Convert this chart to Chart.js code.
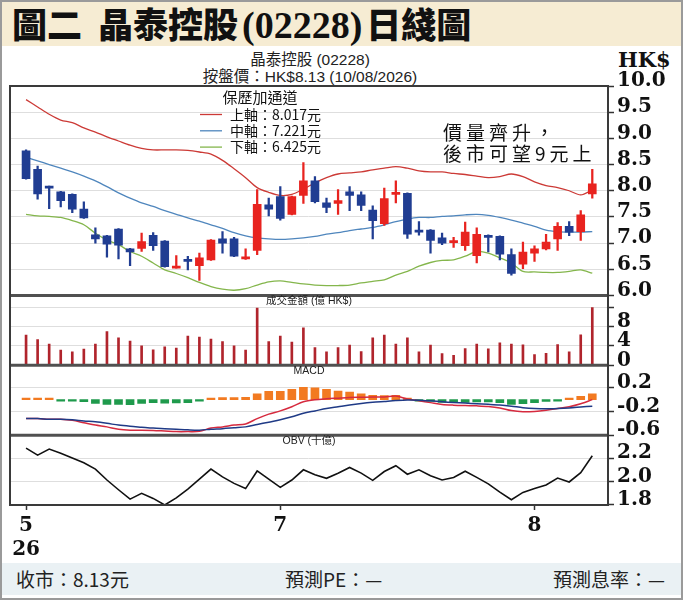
<!DOCTYPE html>
<html><head><meta charset="utf-8">
<script src="https://cdn.jsdelivr.net/npm/chart.js@4/dist/chart.umd.min.js"></script>
<style>
html,body{margin:0;padding:0;background:#fff;}
#wrap{position:relative;width:683px;height:600px;overflow:hidden;background:#fff;font-family:"Noto Sans CJK TC","Noto Sans",sans-serif;}
#titlebar{position:absolute;left:0;top:0;width:683px;height:46px;background:#f6ecd3;}
#title{position:absolute;left:12px;top:0px;font-size:35px;font-weight:900;line-height:46px;color:#111;white-space:nowrap;}
#title .num{font-family:"Liberation Serif",serif;font-weight:bold;font-size:38px;margin:0 4px;}
#sub1,#sub2{position:absolute;left:160px;width:300px;text-align:center;font-family:"Liberation Sans","Noto Sans CJK TC",sans-serif;font-size:15.5px;color:#222;line-height:18px;white-space:nowrap;}
#sub1{top:51px;}
#sub2{top:68px;}
#hk{position:absolute;left:618px;top:48px;font-family:"DejaVu Serif",serif;font-weight:bold;font-size:21px;color:#111;line-height:24px;}
#note{position:absolute;left:443px;top:121px;font-size:19px;line-height:21px;letter-spacing:4px;color:#111;white-space:nowrap;}
#c{position:absolute;left:0;top:0;}
#footer{position:absolute;left:0;top:563px;width:683px;height:32px;background:#eaf1f4;font-size:19px;line-height:32px;color:#222;}
#footer span{position:absolute;top:0;white-space:nowrap;}
#frame{position:absolute;left:0;top:0;width:679px;height:596px;border:2px solid #9a9a9a;pointer-events:none;}
</style>
</head>
<body>
<div id="wrap">
  <div id="titlebar"><div id="title">圖二&nbsp;&nbsp;晶泰控股<span class="num">(02228)</span>日綫圖</div></div>
  <div id="sub1">晶泰控股 (02228)</div>
  <div id="sub2">按盤價：HK$8.13 (10/08/2026)</div>
  <div id="hk">HK$</div>
  <canvas id="c" width="683" height="600"></canvas>
  <div id="note">價量齊升，<br>後市可望9元上</div>
  <div id="footer"><span style="left:16px">收市：8.13元</span><span style="left:285px">預測PE：—</span><span style="left:553px">預測息率：—</span></div>
  <div id="frame"></div>
</div>
<script>
// ---- data ----
const tickIndex = [0, 22, 44];
const tickLabels = [['5', '26'], '7', '8'];

const open  = [8.76,8.41,8.08,7.98,7.93,7.65,7.16,7.14,7.27,6.89,6.90,7.15,7.04,6.52,6.69,6.57,6.68,7.08,7.08,6.70,6.86,7.73,7.89,7.55,7.91,8.19,7.77,7.76,7.98,7.92,7.63,7.37,7.93,7.95,7.24,7.25,7.10,7.01,6.95,6.76,7.15,7.13,6.78,6.60,6.81,6.89,7.08,7.32,7.22,7.94];
const close = [8.23,7.94,8.05,7.81,7.65,7.48,7.08,6.98,6.96,6.83,7.03,6.95,6.55,6.56,6.65,6.72,7.06,7.00,6.75,6.74,7.74,7.65,7.47,7.89,8.19,7.79,7.68,7.81,7.91,7.72,7.43,7.85,7.96,7.17,7.21,7.05,7.00,7.05,7.21,7.17,7.11,6.79,6.42,6.83,6.89,7.02,7.32,7.21,7.54,8.13];
const high  = [8.78,8.47,8.09,7.99,7.94,7.79,7.29,7.15,7.28,6.90,7.19,7.20,7.05,6.76,6.75,6.81,7.07,7.22,7.11,6.89,8.02,7.86,8.08,7.90,8.54,8.27,7.86,8.02,8.08,7.98,7.71,8.05,8.19,7.96,7.41,7.26,7.19,7.11,7.40,7.29,7.16,7.14,6.89,7.02,6.95,7.17,7.39,7.41,7.62,8.41];
const low   = [8.22,7.84,7.66,7.69,7.58,7.47,7.00,6.73,6.70,6.57,6.84,6.86,6.54,6.52,6.49,6.29,6.67,6.81,6.74,6.69,6.78,7.52,7.44,7.54,7.76,7.77,7.58,7.55,7.62,7.62,7.08,7.34,7.77,7.09,7.15,6.81,6.97,6.92,6.86,6.62,6.83,6.68,6.39,6.51,6.65,6.87,6.86,7.14,7.05,7.86];

const bollUpper = [9.74,9.60,9.46,9.35,9.30,9.20,9.12,9.03,8.95,8.87,8.81,8.78,8.78,8.78,8.77,8.74,8.70,8.58,8.42,8.25,8.06,7.97,7.91,7.93,8.03,8.15,8.25,8.32,8.34,8.36,8.40,8.43,8.46,8.43,8.38,8.36,8.36,8.33,8.31,8.28,8.25,8.27,8.32,8.27,8.17,8.10,8.06,8.00,7.92,8.017];
const bollMid   = [8.64,8.57,8.50,8.43,8.36,8.28,8.19,8.08,7.96,7.86,7.77,7.70,7.62,7.55,7.48,7.42,7.35,7.28,7.20,7.14,7.10,7.08,7.07,7.08,7.10,7.13,7.17,7.20,7.24,7.27,7.30,7.35,7.41,7.46,7.49,7.49,7.51,7.52,7.54,7.55,7.53,7.49,7.44,7.38,7.32,7.25,7.22,7.21,7.21,7.221];
const bollLower = [7.55,7.52,7.51,7.49,7.43,7.35,7.19,7.06,6.97,6.84,6.75,6.62,6.49,6.42,6.34,6.25,6.17,6.12,6.10,6.13,6.20,6.26,6.28,6.25,6.22,6.20,6.19,6.19,6.20,6.24,6.27,6.30,6.39,6.46,6.56,6.63,6.67,6.68,6.75,6.84,6.81,6.72,6.62,6.46,6.45,6.44,6.44,6.46,6.49,6.425];

const turnover = [6.25,5.33,4.37,3.12,2.77,3.33,4.37,6.94,5.69,5.00,4.02,3.19,3.81,3.54,6.04,5.83,5.42,4.92,4.02,3.12,11.8,4.92,6.04,4.79,7.71,3.67,2.77,3.67,4.17,2.83,5.69,6.25,4.37,5.69,2.77,4.17,2.42,2.08,3.46,4.37,3.40,4.65,4.37,4.23,2.21,2.50,4.30,2.77,6.31,11.9];

const macdDif  = [-0.32,-0.32,-0.33,-0.33,-0.35,-0.39,-0.43,-0.46,-0.50,-0.515,-0.515,-0.52,-0.53,-0.54,-0.54,-0.535,-0.48,-0.46,-0.43,-0.41,-0.32,-0.245,-0.19,-0.12,-0.035,0.0,0.015,0.025,0.035,0.04,0.045,0.045,0.06,0.01,-0.02,-0.05,-0.08,-0.093,-0.10,-0.105,-0.115,-0.14,-0.185,-0.205,-0.20,-0.18,-0.15,-0.12,-0.07,0.0];
const macdDea  = [-0.32,-0.32,-0.33,-0.33,-0.34,-0.36,-0.375,-0.40,-0.43,-0.45,-0.465,-0.48,-0.49,-0.50,-0.51,-0.515,-0.50,-0.49,-0.475,-0.46,-0.42,-0.38,-0.34,-0.29,-0.23,-0.19,-0.15,-0.12,-0.09,-0.065,-0.045,-0.03,-0.015,-0.005,-0.008,-0.02,-0.035,-0.048,-0.058,-0.068,-0.078,-0.09,-0.11,-0.135,-0.15,-0.155,-0.15,-0.14,-0.125,-0.11];
const macdHist = [0.003,0.002,0.002,-0.008,-0.02,-0.035,-0.065,-0.08,-0.08,-0.085,-0.065,-0.05,-0.06,-0.055,-0.05,-0.025,0.01,0.035,0.035,0.04,0.10,0.14,0.14,0.175,0.21,0.20,0.175,0.146,0.13,0.10,0.073,0.068,0.073,0.005,-0.005,-0.028,-0.045,-0.045,-0.045,-0.04,-0.04,-0.05,-0.08,-0.068,-0.05,-0.028,-0.005,0.005,0.056,0.10];

const obv = [2.285,2.225,2.277,2.24,2.20,2.16,2.106,2.013,1.93,1.85,1.90,1.856,1.80,1.86,1.936,2.02,2.106,2.04,1.984,1.94,2.09,2.02,1.95,2.013,2.10,2.058,2.027,2.07,2.12,2.072,2.01,2.085,2.135,2.062,2.10,2.05,2.013,2.035,2.088,2.035,1.98,1.91,1.845,1.907,1.94,1.97,2.03,1.996,2.075,2.22];

const priceTicks = [6.0,6.5,7.0,7.5,8.0,8.5,9.0,9.5,10.0];
const priceTickLabels = ['6.0','6.5','7.0','7.5','8.0','8.5','9.0','9.5','10.0'];
const volTicks = [0,4,8,12];
const volTickLabels = ['0','4','8',''];
const macdTicks = [-0.6,-0.2,0.2];
const macdTickLabels = ['-0.6','-0.2','0.2'];
const obvTicks = [1.8,2.0,2.2];
const obvTickLabels = ['1.8','2.0','2.2'];

// ---- build ----
const idx = open.map((_, i) => i);
const RED = '#e8231f', BLUE = '#203d92';
const candleColor = idx.map(i => close[i] >= open[i] ? RED : BLUE);
const pts = arr => idx.map(i => ({x: i, y: arr[i]}));

const axisFont = {family: 'DejaVu Serif', weight: 'bold', size: 20};
function yAxis(min, max, ticks, labels, weight) {
  return {
    type: 'linear', position: 'right', stack: 'panels', stackWeight: weight, min, max, offset: false,
    afterBuildTicks: s => { s.ticks = ticks.map(v => ({value: v})); },
    afterFit: s => { s.width = 67; },
    grid: {color: '#dedede', lineWidth: 1, drawTicks: true, tickLength: 6, tickColor: '#333', tickWidth: 1.5},
    border: {display: true, color: '#444', width: 2},
    ticks: {padding: 3, labelOffset: -5, color: '#111', font: axisFont, autoSkip: false,
            callback: (v, i) => labels[i]}
  };
}

const decor = {
  id: 'decor',
  afterDraw(chart) {
    const {ctx, chartArea: a, scales} = chart;
    const cx = (a.left + a.right) / 2;
    ctx.save();
    ctx.strokeStyle = '#505050';
    ctx.lineWidth = 3;
    [scales.yPrice.bottom, scales.yVol.bottom, scales.yMacd.bottom].forEach(y => {
      ctx.beginPath(); ctx.moveTo(a.left, y); ctx.lineTo(a.right, y); ctx.stroke();
    });
    ctx.lineWidth = 2;
    ctx.strokeStyle = '#3a3a3a';
    ctx.strokeRect(a.left, a.top, a.right - a.left, a.bottom - a.top);
    ctx.fillStyle = '#222';
    ctx.textAlign = 'center';
    ctx.textBaseline = 'middle';
    ctx.font = '10.5px "Liberation Sans", "Noto Sans CJK TC", sans-serif';
    ctx.fillText('成交金額 (億 HK$)', cx, scales.yVol.top + 6);
    ctx.fillText('MACD', cx, scales.yMacd.top + 6);
    ctx.fillText('OBV (十億)', cx, scales.yObv.top + 6);
    const top = scales.yPrice.top;
    ctx.font = '15px "Noto Sans CJK TC", sans-serif';
    ctx.fillStyle = '#111';
    ctx.fillText('保歷加通道', 260, top + 11);
    const rows = [
      ['上軸', bollUpper, '#cc3a36'],
      ['中軸', bollMid, '#4f86bd'],
      ['下軸', bollLower, '#84b64c']
    ];
    ctx.font = '14px "Noto Sans CJK TC", sans-serif';
    ctx.textAlign = 'left';
    rows.forEach((r, k) => {
      const y = top + 28.5 + k * 16.3;
      ctx.strokeStyle = r[2]; ctx.lineWidth = 1.3;
      ctx.beginPath(); ctx.moveTo(200, y); ctx.lineTo(222, y); ctx.stroke();
      ctx.fillStyle = '#111';
      ctx.fillText(r[0] + '：' + r[1][r[1].length - 1].toFixed(3) + '元', 230, y);
    });
    ctx.restore();
  }
};

new Chart(document.getElementById('c'), {
  data: {
    datasets: [
      {type: 'line', label: 'upper', data: pts(bollUpper), yAxisID: 'yPrice', borderColor: '#cc3a36', borderWidth: 1.3, pointRadius: 0, tension: 0.3, order: 3},
      {type: 'line', label: 'mid', data: pts(bollMid), yAxisID: 'yPrice', borderColor: '#4f86bd', borderWidth: 1.3, pointRadius: 0, tension: 0.3, order: 3},
      {type: 'line', label: 'lower', data: pts(bollLower), yAxisID: 'yPrice', borderColor: '#84b64c', borderWidth: 1.3, pointRadius: 0, tension: 0.3, order: 3},
      {type: 'bar', label: 'wick', data: idx.map(i => ({x: i, y: [low[i], high[i]]})), yAxisID: 'yPrice',
       backgroundColor: candleColor, barThickness: 1.6, grouped: false, order: 2},
      {type: 'bar', label: 'body', data: idx.map(i => ({x: i, y: [open[i], close[i]]})), yAxisID: 'yPrice',
       backgroundColor: candleColor, barThickness: 8, minBarLength: 2, grouped: false, order: 1},
      {type: 'bar', label: 'turnover', data: pts(turnover), yAxisID: 'yVol',
       backgroundColor: '#b0242c', barThickness: 2, grouped: false, order: 1},
      {type: 'bar', label: 'hist', data: pts(macdHist), yAxisID: 'yMacd',
       backgroundColor: macdHist.map(v => v >= 0 ? '#f27a21' : '#1f9a4c'), barThickness: 8, minBarLength: 1.5, grouped: false, order: 2},
      {type: 'line', label: 'DIF', data: pts(macdDif), yAxisID: 'yMacd', borderColor: '#d62a3e', borderWidth: 1.5, pointRadius: 0, tension: 0.3, order: 1},
      {type: 'line', label: 'DEA', data: pts(macdDea), yAxisID: 'yMacd', borderColor: '#1f3a86', borderWidth: 1.5, pointRadius: 0, tension: 0.3, order: 0},
      {type: 'line', label: 'OBV', data: pts(obv), yAxisID: 'yObv', borderColor: '#111', borderWidth: 1.6, pointRadius: 0, tension: 0, order: 0}
    ]
  },
  options: {
    responsive: false,
    devicePixelRatio: 1,
    animation: false,
    events: [],
    layout: {padding: {left: 10, top: 86, right: 8, bottom: 40}},
    plugins: {legend: {display: false}, tooltip: {enabled: false}},
    scales: {
      x: {
        type: 'linear', position: 'bottom', min: -1.39, max: 50.36, offset: false,
        afterBuildTicks: s => { s.ticks = tickIndex.map(v => ({value: v})); },
        afterFit: s => { s.height = 55; },
        grid: {offset: false, drawOnChartArea: false, drawTicks: true, tickLength: 5, tickColor: '#333', tickWidth: 1.5},
        border: {display: true, color: '#444', width: 2},
        ticks: {autoSkip: false, maxRotation: 0, padding: 4, color: '#111', font: axisFont,
                callback: (v, i) => tickLabels[i]}
      },
      yPrice: yAxis(6.0, 10.0, priceTicks, priceTickLabels, 3),
      yVol: yAxis(0, 14.4, volTicks, volTickLabels, 1),
      yMacd: yAxis(-0.6, 0.58, macdTicks, macdTickLabels, 1),
      yObv: yAxis(1.8, 2.395, obvTicks, obvTickLabels, 1)
    }
  },
  plugins: [decor]
});
</script>
</body></html>
